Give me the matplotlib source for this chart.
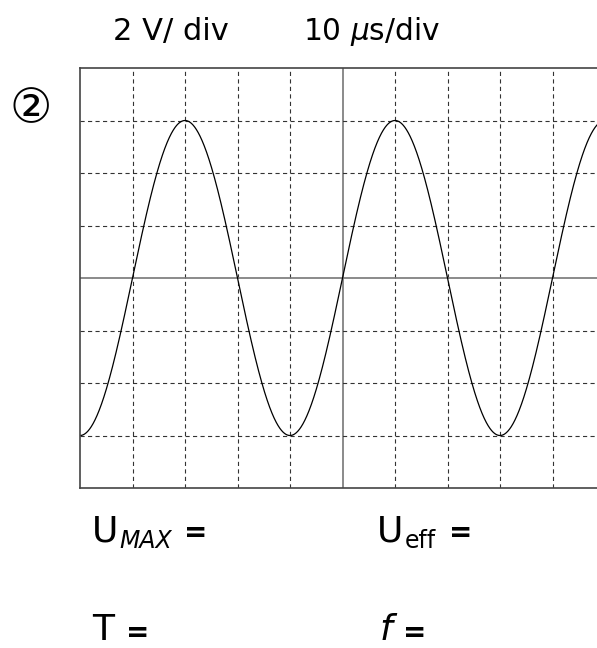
import numpy as np
import matplotlib
matplotlib.use("Agg")
import matplotlib.pyplot as plt

# --- values ---
volts_per_div = 2          # V/div
time_per_div = 10          # µs/div
n_div_x = 10
n_div_y = 8
u_max_volts = 6.0          # peak = 3 divisions
period_us = 40.0           # 4 divisions
header_labels = ["2 V/ div", r"10 $\mu$s/div"]
panel_label = "②"
answer_labels = [("U", "MAX"), ("U", "eff"), ("T", ""), ("f", "")]

W, H, DPI = 597, 648, 100
fig = plt.figure(figsize=(W / DPI, H / DPI), dpi=DPI)
plt.rcParams['lines.scale_dashes'] = False

def fx(px):
    return px / W

def fy(py):
    return 1 - py / H

left_px, top_px, bottom_px = 80, 68, 488
div_px = (bottom_px - top_px) / n_div_y
ax = fig.add_axes([fx(left_px), fy(bottom_px), n_div_x * div_px / W, (bottom_px - top_px) / H])

xmax = n_div_x * time_per_div
ymax = n_div_y / 2 * volts_per_div
ax.set_xlim(0, xmax)
ax.set_ylim(-ymax, ymax)
ax.set_xticks([])
ax.set_yticks([])
for s in ax.spines.values():
    s.set_color("#444444")
    s.set_linewidth(1.2)

grid_col = "#333333"
for i in range(1, n_div_x):
    xv = i * time_per_div
    if i == n_div_x // 2:
        ax.axvline(xv, color="#777777", lw=1.2)
    else:
        ax.axvline(xv, color=grid_col, lw=0.8, linestyle=(0, (3.0, 2.4)))
for j in range(1, n_div_y):
    yv = -ymax + j * volts_per_div
    if j == n_div_y // 2:
        ax.axhline(yv, color="#777777", lw=1.2)
    else:
        ax.axhline(yv, color=grid_col, lw=0.8, linestyle=(0, (3.0, 2.4)))

t = np.linspace(0, xmax, 2000)
u = -u_max_volts * np.cos(2 * np.pi * t / period_us)
ax.plot(t, u, color="black", lw=0.9)

fam = ["DejaVu Sans", "Noto Sans CJK SC"]
fig.text(fx(113), fy(40), header_labels[0], fontsize=22, ha="left", va="baseline", family=fam)
fig.text(fx(303), fy(40), header_labels[1], fontsize=21.3, ha="left", va="baseline", family=fam)
fig.text(fx(31), fy(110), panel_label, fontsize=34, ha="center", va="center", family=fam)

big = 26
small = 17
eq = 20
# row 1
fig.text(fx(92), fy(542), answer_labels[0][0], fontsize=big, ha="left", va="baseline")
fig.text(fx(119), fy(548), answer_labels[0][1], fontsize=small, ha="left", va="baseline", style="italic")
fig.text(fx(184), fy(541), "=", fontsize=eq, ha="left", va="baseline", weight="bold")

fig.text(fx(377), fy(542), answer_labels[1][0], fontsize=big, ha="left", va="baseline")
fig.text(fx(405), fy(548), answer_labels[1][1], fontsize=small, ha="left", va="baseline")
fig.text(fx(449), fy(541), "=", fontsize=eq, ha="left", va="baseline", weight="bold")

# row 2
fig.text(fx(92), fy(640), answer_labels[2][0], fontsize=big, ha="left", va="baseline")
fig.text(fx(126), fy(641), "=", fontsize=eq, ha="left", va="baseline", weight="bold")

fig.text(fx(380), fy(640), answer_labels[3][0], fontsize=big, ha="left", va="baseline", style="italic")
fig.text(fx(403), fy(641), "=", fontsize=eq, ha="left", va="baseline", weight="bold")

fig.savefig("out.png", dpi=DPI)
